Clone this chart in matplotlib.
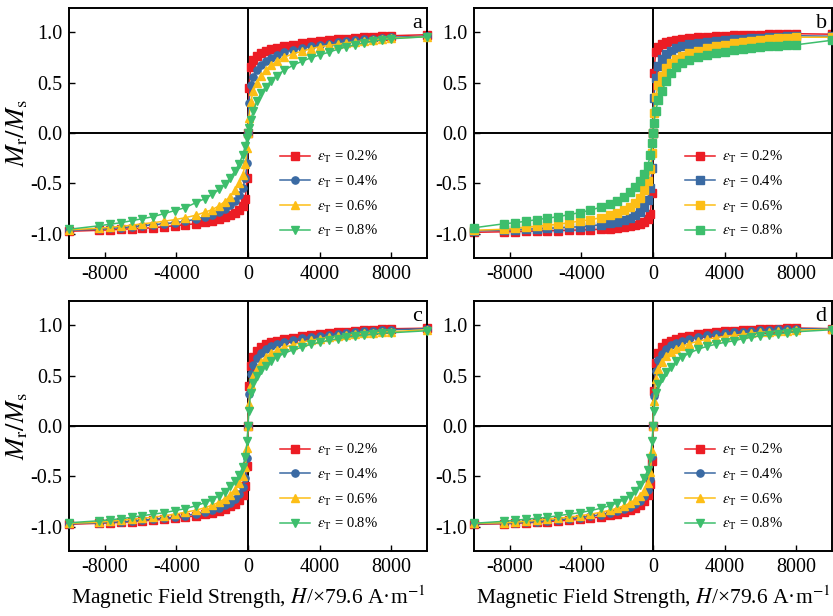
import matplotlib
matplotlib.use("Agg")
import matplotlib.pyplot as plt

plt.rcParams['font.family'] = ['Liberation Serif', 'DejaVu Serif']
plt.rcParams['mathtext.fontset'] = 'stix'
plt.rcParams['axes.unicode_minus'] = False

# Magnetic field values (x 79.6 A/m)
H = [-10000, -8300, -7700, -7100, -6500, -5900, -5300, -4700, -4100, -3500, -2900,
     -2400, -2000, -1600, -1300, -1000, -750, -500, -300, -150, -50, 0,
     50, 150, 300, 500, 750, 1000, 1300, 1600, 2000, 2500, 3000,
     3500, 4000, 4500, 5000, 5500, 6000, 6500, 7000, 7500, 8000, 10000]

labels = [r'$\varepsilon_{\mathrm{T}}$ = 0.2%', r'$\varepsilon_{\mathrm{T}}$ = 0.4%',
          r'$\varepsilon_{\mathrm{T}}$ = 0.6%', r'$\varepsilon_{\mathrm{T}}$ = 0.8%']
panel_tags = ['a', 'b', 'c', 'd']

# Panel a
a_red = [-0.975, -0.965, -0.96, -0.955, -0.95, -0.945, -0.94, -0.93, -0.92, -0.91, -0.90,
         -0.885, -0.87, -0.85, -0.835, -0.815, -0.79, -0.76, -0.72, -0.65, -0.45, 0.0,
         0.45, 0.65, 0.72, 0.76, 0.79, 0.81, 0.83, 0.845, 0.86, 0.875, 0.89,
         0.90, 0.91, 0.92, 0.93, 0.935, 0.94, 0.95, 0.955, 0.96, 0.965, 0.975]
a_blue = [-0.965, -0.955, -0.945, -0.94, -0.93, -0.92, -0.91, -0.90, -0.89, -0.875, -0.855,
          -0.83, -0.81, -0.78, -0.75, -0.71, -0.67, -0.62, -0.55, -0.45, -0.30, 0.0,
          0.30, 0.48, 0.56, 0.62, 0.67, 0.71, 0.745, 0.775, 0.80, 0.825, 0.84,
          0.86, 0.87, 0.885, 0.90, 0.91, 0.92, 0.93, 0.935, 0.945, 0.95, 0.96]
a_yellow = [-0.96, -0.945, -0.935, -0.925, -0.915, -0.90, -0.89, -0.875, -0.86, -0.84, -0.815,
            -0.785, -0.76, -0.72, -0.68, -0.63, -0.57, -0.50, -0.42, -0.31, -0.15, 0.0,
            0.15, 0.31, 0.42, 0.50, 0.57, 0.62, 0.67, 0.71, 0.75, 0.785, 0.81,
            0.835, 0.855, 0.87, 0.88, 0.895, 0.905, 0.915, 0.925, 0.935, 0.94, 0.955]
a_green = [-0.955, -0.92, -0.905, -0.89, -0.87, -0.85, -0.83, -0.80, -0.77, -0.74, -0.69,
           -0.65, -0.61, -0.56, -0.51, -0.45, -0.38, -0.31, -0.22, -0.13, -0.05, 0.0,
           0.05, 0.13, 0.22, 0.32, 0.40, 0.46, 0.52, 0.57, 0.62, 0.67, 0.71,
           0.745, 0.775, 0.80, 0.83, 0.855, 0.875, 0.895, 0.91, 0.925, 0.935, 0.955]

# Panel b
b_red = [-0.985, -0.98, -0.978, -0.975, -0.972, -0.97, -0.968, -0.965, -0.962, -0.958, -0.955,
         -0.95, -0.945, -0.935, -0.925, -0.915, -0.90, -0.88, -0.85, -0.80, -0.60, 0.0,
         0.60, 0.80, 0.85, 0.88, 0.90, 0.915, 0.925, 0.935, 0.945, 0.95, 0.955,
         0.96, 0.965, 0.968, 0.97, 0.973, 0.975, 0.978, 0.98, 0.982, 0.985, 0.98]
b_blue = [-0.97, -0.965, -0.96, -0.955, -0.95, -0.945, -0.94, -0.935, -0.93, -0.92, -0.91,
          -0.895, -0.88, -0.86, -0.84, -0.815, -0.78, -0.73, -0.66, -0.55, -0.35, 0.0,
          0.35, 0.55, 0.66, 0.73, 0.78, 0.815, 0.84, 0.86, 0.88, 0.895, 0.905,
          0.915, 0.925, 0.93, 0.935, 0.94, 0.945, 0.95, 0.955, 0.96, 0.965, 0.96]
b_yellow = [-0.965, -0.955, -0.945, -0.935, -0.925, -0.915, -0.905, -0.89, -0.875, -0.86, -0.84,
            -0.815, -0.79, -0.76, -0.73, -0.69, -0.64, -0.57, -0.48, -0.36, -0.20, 0.0,
            0.20, 0.36, 0.48, 0.57, 0.64, 0.69, 0.73, 0.76, 0.79, 0.815, 0.84,
            0.86, 0.875, 0.89, 0.905, 0.915, 0.925, 0.935, 0.94, 0.945, 0.95, 0.95]
b_green = [-0.94, -0.90, -0.89, -0.875, -0.86, -0.845, -0.83, -0.81, -0.79, -0.765, -0.735,
           -0.70, -0.67, -0.63, -0.59, -0.54, -0.48, -0.41, -0.33, -0.22, -0.10, 0.0,
           0.10, 0.22, 0.33, 0.42, 0.52, 0.60, 0.655, 0.69, 0.72, 0.75, 0.77,
           0.79, 0.805, 0.82, 0.83, 0.84, 0.85, 0.86, 0.865, 0.87, 0.875, 0.92]

# Panel c
c_red = [-0.975, -0.965, -0.96, -0.955, -0.95, -0.94, -0.935, -0.925, -0.915, -0.905, -0.89,
         -0.875, -0.86, -0.84, -0.82, -0.795, -0.77, -0.73, -0.68, -0.60, -0.40, 0.0,
         0.40, 0.60, 0.68, 0.74, 0.78, 0.81, 0.83, 0.845, 0.86, 0.875, 0.89,
         0.90, 0.91, 0.92, 0.93, 0.935, 0.94, 0.95, 0.955, 0.96, 0.965, 0.97]
c_blue = [-0.97, -0.96, -0.955, -0.95, -0.945, -0.935, -0.925, -0.915, -0.905, -0.89, -0.87,
          -0.85, -0.83, -0.81, -0.785, -0.76, -0.72, -0.67, -0.61, -0.52, -0.32, 0.0,
          0.32, 0.52, 0.61, 0.67, 0.72, 0.76, 0.79, 0.815, 0.835, 0.855, 0.87,
          0.885, 0.895, 0.905, 0.915, 0.925, 0.93, 0.94, 0.945, 0.95, 0.955, 0.965]
c_yellow = [-0.965, -0.955, -0.945, -0.935, -0.925, -0.915, -0.905, -0.89, -0.875, -0.855, -0.835,
            -0.81, -0.785, -0.755, -0.72, -0.68, -0.63, -0.57, -0.50, -0.41, -0.22, 0.0,
            0.22, 0.41, 0.50, 0.57, 0.63, 0.68, 0.72, 0.75, 0.78, 0.805, 0.83,
            0.85, 0.865, 0.88, 0.89, 0.90, 0.91, 0.92, 0.925, 0.93, 0.935, 0.955]
c_green = [-0.96, -0.94, -0.93, -0.92, -0.905, -0.89, -0.875, -0.86, -0.84, -0.82, -0.79,
           -0.76, -0.73, -0.69, -0.65, -0.60, -0.55, -0.49, -0.41, -0.31, -0.15, 0.0,
           0.15, 0.33, 0.43, 0.50, 0.56, 0.60, 0.645, 0.68, 0.72, 0.755, 0.78,
           0.81, 0.83, 0.85, 0.865, 0.88, 0.89, 0.90, 0.91, 0.92, 0.925, 0.945]

# Panel d
d_red = [-0.975, -0.97, -0.965, -0.96, -0.955, -0.95, -0.94, -0.935, -0.925, -0.915, -0.90,
         -0.885, -0.87, -0.85, -0.83, -0.81, -0.78, -0.74, -0.68, -0.58, -0.35, 0.0,
         0.35, 0.62, 0.72, 0.78, 0.82, 0.845, 0.865, 0.88, 0.895, 0.91, 0.92,
         0.93, 0.94, 0.945, 0.95, 0.955, 0.96, 0.963, 0.966, 0.97, 0.972, 0.965]
d_blue = [-0.97, -0.965, -0.96, -0.955, -0.95, -0.94, -0.93, -0.92, -0.91, -0.895, -0.88,
          -0.86, -0.845, -0.825, -0.80, -0.775, -0.74, -0.69, -0.63, -0.53, -0.30, 0.0,
          0.30, 0.55, 0.65, 0.71, 0.76, 0.80, 0.825, 0.845, 0.865, 0.885, 0.90,
          0.91, 0.92, 0.93, 0.935, 0.94, 0.95, 0.955, 0.96, 0.963, 0.966, 0.965]
d_yellow = [-0.965, -0.96, -0.955, -0.945, -0.935, -0.925, -0.915, -0.905, -0.89, -0.875, -0.855,
            -0.835, -0.815, -0.79, -0.765, -0.73, -0.69, -0.64, -0.57, -0.46, -0.25, 0.0,
            0.25, 0.47, 0.57, 0.63, 0.69, 0.73, 0.765, 0.79, 0.815, 0.84, 0.86,
            0.875, 0.89, 0.90, 0.91, 0.92, 0.93, 0.935, 0.94, 0.945, 0.95, 0.96]
d_green = [-0.965, -0.945, -0.935, -0.925, -0.915, -0.905, -0.89, -0.875, -0.86, -0.84, -0.815,
           -0.79, -0.76, -0.73, -0.69, -0.64, -0.59, -0.52, -0.44, -0.32, -0.15, 0.0,
           0.15, 0.33, 0.42, 0.48, 0.54, 0.59, 0.64, 0.68, 0.72, 0.76, 0.79,
           0.81, 0.83, 0.845, 0.865, 0.88, 0.895, 0.905, 0.915, 0.925, 0.935, 0.955]

panel_series = [
    [a_red, a_blue, a_yellow, a_green],
    [b_red, b_blue, b_yellow, b_green],
    [c_red, c_blue, c_yellow, c_green],
    [d_red, d_blue, d_yellow, d_green],
]
panel_markers = [
    ['s', 'o', '^', 'v'],
    ['s', 's', 's', 's'],
    ['s', 'o', '^', 'v'],
    ['s', 'o', '^', 'v'],
]
colors = ['#EC1C24', '#3A6AA3', '#FDBE16', '#3DBE6C']

xticks = [-8000, -4000, 0, 4000, 8000]
xticklabels = ['-8000', '-4000', '0', '4000', '8000']
yticks = [-1.0, -0.5, 0.0, 0.5, 1.0]
yticklabels = ['-1.0', '-0.5', '0.0', '0.5', '1.0']

W, Hpx = 833, 616
fig = plt.figure(figsize=(W / 100, Hpx / 100), dpi=100)

boxes = [(69, 8), (474, 8), (69, 301), (474, 301)]
aw, ah = 358, 250

for i, (x0, y0) in enumerate(boxes):
    ax = fig.add_axes([x0 / W, 1 - (y0 + ah) / Hpx, aw / W, ah / Hpx])
    ax.axhline(0, color='black', lw=1.4, zorder=1)
    ax.axvline(0, color='black', lw=1.4, zorder=1)
    for j, ys in enumerate(panel_series[i]):
        ax.plot(H, ys, color=colors[j], marker=panel_markers[i][j], ms=5.2,
                lw=1.1, label=labels[j], zorder=2 + j, clip_on=False)
    ax.set_xlim(-10000, 10000)
    ax.set_ylim(-1.24, 1.24)
    ax.set_xticks(xticks)
    ax.set_xticklabels(xticklabels)
    ax.set_yticks(yticks)
    ax.set_yticklabels(yticklabels)
    ax.tick_params(direction='in', length=4, width=1.0, labelsize=14.5, pad=5)
    for s in ax.spines.values():
        s.set_linewidth(1.4)
    ax.text(0.985, 0.975, panel_tags[i], transform=ax.transAxes, ha='right', va='top',
            fontsize=16)
    ax.legend(loc='upper left', bbox_to_anchor=(0.588, 0.437), frameon=False,
              fontsize=10.5, handlelength=2.1, handletextpad=0.5, labelspacing=0.6,
              borderpad=0, borderaxespad=0)
    if i in (0, 2):
        ax.set_ylabel(r'$M_{\mathrm{r}}/M_{\mathrm{s}}$', fontsize=19, labelpad=0)
    if i in (2, 3):
        ax.set_xlabel(r'Magnetic Field Strength, $H$/×79.6 A·m$^{-1}$', fontsize=15.5,
                      labelpad=5)

fig.savefig('out.png', dpi=100)
